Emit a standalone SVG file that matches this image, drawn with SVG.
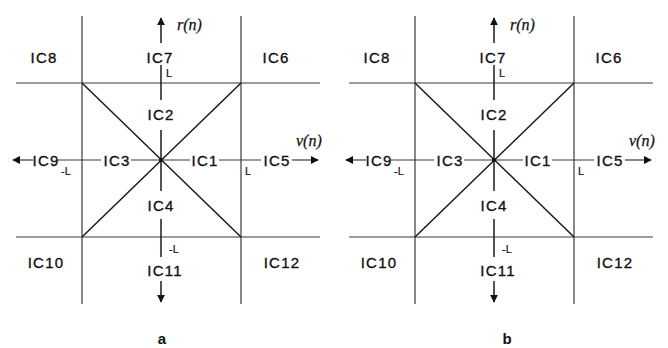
<svg xmlns="http://www.w3.org/2000/svg" width="668" height="348" viewBox="0 0 668 348">
<defs>
<style>
.grid{stroke:#3a3a3a;stroke-width:1.2;fill:none}
.axis{stroke:#1a1a1a;stroke-width:1.5;fill:none}
.diag{stroke:#1a1a1a;stroke-width:1.5;fill:none}
.lbl{font-family:"Liberation Sans",Arial,sans-serif;font-size:15px;letter-spacing:1.2px;fill:#111;stroke:#111;stroke-width:0.35;text-anchor:middle}
.sm{font-family:"Liberation Sans",Arial,sans-serif;font-size:11px;fill:#111;stroke:#111;stroke-width:0.2}
.var{font-family:"Liberation Serif","Times New Roman",serif;font-style:italic;font-size:16px;fill:#111;stroke:#111;stroke-width:0.25}
.cap{font-family:"Liberation Sans",Arial,sans-serif;font-size:15px;font-weight:bold;fill:#111;text-anchor:middle}
</style>
<marker id="ah" viewBox="0 0 10 10" refX="9" refY="5" markerWidth="8" markerHeight="8" markerUnits="userSpaceOnUse" orient="auto"><path d="M0,0 L10,5 L0,10 z" fill="#111"/></marker>
</defs>
<rect width="668" height="348" fill="#fff"/>

<g id="panel-a">
<g id="a-connectors">
<line class="grid" x1="82" y1="16" x2="82" y2="304"/>
<line class="grid" x1="241" y1="16" x2="241" y2="304"/>
<line class="grid" x1="16" y1="83" x2="320" y2="83"/>
<line class="grid" x1="16" y1="237" x2="320" y2="237"/>
<line class="diag" x1="82" y1="83" x2="241" y2="237"/>
<line class="diag" x1="241" y1="83" x2="82" y2="237"/>
<line class="axis" x1="161" y1="43" x2="161" y2="18" marker-end="url(#ah)"/>
<line class="axis" x1="161" y1="65" x2="161" y2="100"/>
<line class="axis" x1="161" y1="130" x2="161" y2="191"/>
<line class="axis" x1="161" y1="219" x2="161" y2="257"/>
<line class="axis" x1="161" y1="281" x2="161" y2="302" marker-end="url(#ah)"/>
<line class="grid" x1="33" y1="160" x2="13" y2="160" marker-end="url(#ah)"/>
<line class="grid" x1="58" y1="160" x2="101" y2="160"/>
<line class="grid" x1="131" y1="160" x2="190" y2="160"/>
<line class="grid" x1="219" y1="160" x2="261" y2="160"/>
<line class="grid" x1="292" y1="160" x2="318" y2="160" marker-end="url(#ah)"/>
<circle cx="161" cy="160" r="2" fill="#111"/>
</g>
<g id="a-IC8"><text class="lbl" x="44" y="63">IC8</text></g>
<g id="a-IC7"><text class="lbl" x="160" y="63">IC7</text></g>
<g id="a-IC6"><text class="lbl" x="276" y="63">IC6</text></g>
<g id="a-IC2"><text class="lbl" x="161" y="120">IC2</text></g>
<g id="a-IC9"><text class="lbl" x="46" y="165.5">IC9</text></g>
<g id="a-IC3"><text class="lbl" x="117" y="165.5">IC3</text></g>
<g id="a-IC1"><text class="lbl" x="205" y="165.5">IC1</text></g>
<g id="a-IC5"><text class="lbl" x="277" y="165.5">IC5</text></g>
<g id="a-IC4"><text class="lbl" x="161" y="211">IC4</text></g>
<g id="a-IC10"><text class="lbl" x="46" y="268">IC10</text></g>
<g id="a-IC11"><text class="lbl" x="165" y="276">IC11</text></g>
<g id="a-IC12"><text class="lbl" x="282" y="268">IC12</text></g>
<g id="a-marks">
<text class="sm" x="166" y="77">L</text>
<text class="sm" x="61" y="175">-L</text>
<text class="sm" x="245" y="175">L</text>
<text class="sm" x="169" y="253">-L</text>
<text class="var" x="177" y="30">r(n)</text>
<text class="var" x="296" y="146">v(n)</text>
<text class="cap" x="162" y="344">a</text>
</g>
</g>

<g id="panel-b">
<g id="b-connectors">
<line class="grid" x1="415" y1="16" x2="415" y2="304"/>
<line class="grid" x1="574" y1="16" x2="574" y2="304"/>
<line class="grid" x1="349" y1="83" x2="653" y2="83"/>
<line class="grid" x1="349" y1="237" x2="653" y2="237"/>
<line class="diag" x1="415" y1="83" x2="574" y2="237"/>
<line class="diag" x1="574" y1="83" x2="415" y2="237"/>
<line class="axis" x1="494" y1="43" x2="494" y2="18" marker-end="url(#ah)"/>
<line class="axis" x1="494" y1="65" x2="494" y2="100"/>
<line class="axis" x1="494" y1="130" x2="494" y2="191"/>
<line class="axis" x1="494" y1="219" x2="494" y2="257"/>
<line class="axis" x1="494" y1="281" x2="494" y2="302" marker-end="url(#ah)"/>
<line class="grid" x1="366" y1="160" x2="346" y2="160" marker-end="url(#ah)"/>
<line class="grid" x1="391" y1="160" x2="434" y2="160"/>
<line class="grid" x1="464" y1="160" x2="523" y2="160"/>
<line class="grid" x1="552" y1="160" x2="594" y2="160"/>
<line class="grid" x1="625" y1="160" x2="651" y2="160" marker-end="url(#ah)"/>
<circle cx="494" cy="160" r="2" fill="#111"/>
</g>
<g id="b-IC8"><text class="lbl" x="377" y="63">IC8</text></g>
<g id="b-IC7"><text class="lbl" x="493" y="63">IC7</text></g>
<g id="b-IC6"><text class="lbl" x="609" y="63">IC6</text></g>
<g id="b-IC2"><text class="lbl" x="494" y="120">IC2</text></g>
<g id="b-IC9"><text class="lbl" x="379" y="165.5">IC9</text></g>
<g id="b-IC3"><text class="lbl" x="450" y="165.5">IC3</text></g>
<g id="b-IC1"><text class="lbl" x="538" y="165.5">IC1</text></g>
<g id="b-IC5"><text class="lbl" x="610" y="165.5">IC5</text></g>
<g id="b-IC4"><text class="lbl" x="494" y="211">IC4</text></g>
<g id="b-IC10"><text class="lbl" x="379" y="268">IC10</text></g>
<g id="b-IC11"><text class="lbl" x="498" y="276">IC11</text></g>
<g id="b-IC12"><text class="lbl" x="615" y="268">IC12</text></g>
<g id="b-marks">
<text class="sm" x="499" y="77">L</text>
<text class="sm" x="394" y="175">-L</text>
<text class="sm" x="578" y="175">L</text>
<text class="sm" x="502" y="253">-L</text>
<text class="var" x="510" y="30">r(n)</text>
<text class="var" x="629" y="146">v(n)</text>
<text class="cap" x="507" y="344">b</text>
</g>
</g>
</svg>
